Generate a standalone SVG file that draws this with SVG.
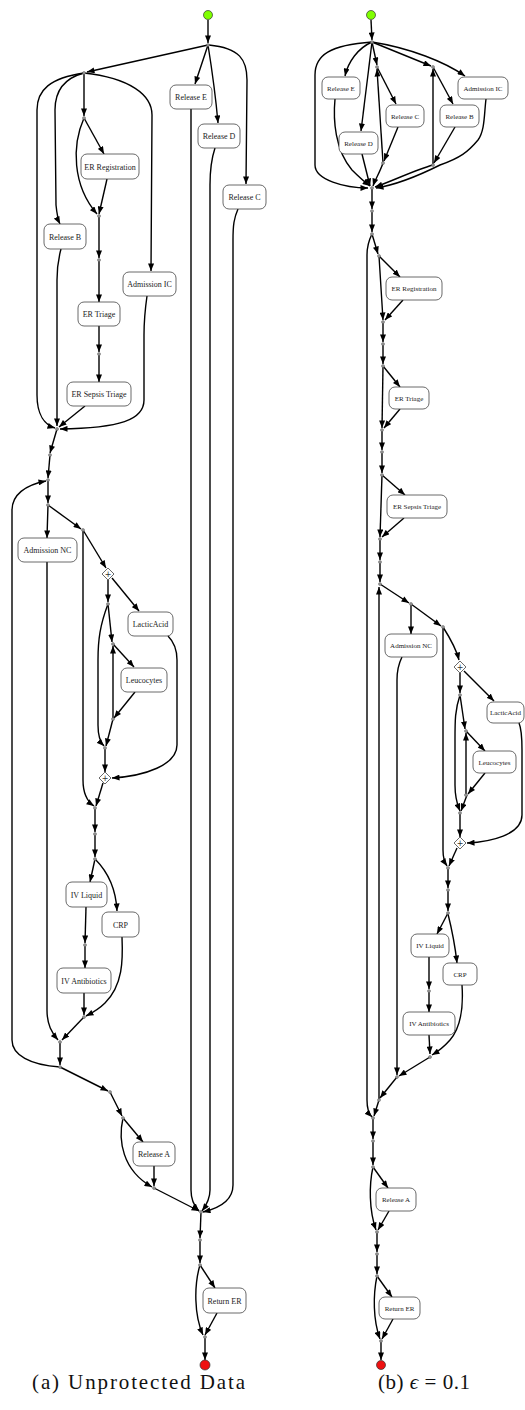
<svg xmlns="http://www.w3.org/2000/svg" width="525" height="1410" viewBox="0 0 525 1410">
<defs>
<marker id="ah" viewBox="0 0 10 8" refX="10" refY="4" markerWidth="8" markerHeight="6" markerUnits="userSpaceOnUse" orient="auto"><path d="M0,0 L10,4 L0,8 z" fill="#000"/></marker>
</defs>
<style>
.e{fill:none;stroke:#000;stroke-width:1.4;marker-end:url(#ah)}
.b rect{fill:#fff;stroke:#444;stroke-width:0.8}
.b text{font-family:"Liberation Serif","DejaVu Serif",serif;fill:#222;text-anchor:middle}
.a text{font-size:8px}
.bb text{font-size:7px}
.j{fill:#999;stroke:#555;stroke-width:0.5}
.g rect,.g path{fill:#fff;stroke:#444;stroke-width:0.8}
.g text{font-family:"DejaVu Sans",sans-serif;font-size:8px;text-anchor:middle;fill:#333}
.cap{font-family:"Liberation Serif","DejaVu Serif",serif;font-size:21px;fill:#111}
</style>
<rect width="525" height="1410" fill="#fff"/>

<g id="edges">
<!-- (a) -->
<path class="e" d="M208,20 L208,43"/>
<path class="e" d="M208,45 L87,72"/>
<path class="e" d="M208,45 L195,84"/>
<path class="e" d="M208,45 C212,70 216,100 218,123"/>
<path class="e" d="M209,45 C240,48 247,60 247,80 L246,184"/>
<path class="e" d="M84,73 C50,78 37,90 37,110 L37,395 C37,415 45,425 55,428"/>
<path class="e" d="M84,73 C65,78 55,90 55,110 L56,205 C57,215 58,220 60,224"/>
<path class="e" d="M84,73 L84,116"/>
<path class="e" d="M84,73 C130,78 152,95 152,115 L151,271"/>
<path class="e" d="M84,118 L104,154"/>
<path class="e" d="M84,118 C72,145 72,185 97,214"/>
<path class="e" d="M107,179 L99,214"/>
<path class="e" d="M99,216 L99,258"/>
<path class="e" d="M99,261 L99,302"/>
<path class="e" d="M99,326 L99,352"/>
<path class="e" d="M99,355 L99,382"/>
<path class="e" d="M85,406 L59,427"/>
<path class="e" d="M61,249 C58,260 57,270 57,280 L57,426"/>
<path class="e" d="M147,296 C145,310 144,320 144,335 L144,400 C144,420 120,428 60,429"/>
<path class="e" d="M57,429 L50,453"/>
<path class="e" d="M50,455 L48,478"/>
<path class="e" d="M48,480 L48,503"/>
<path class="e" d="M60,1067 C30,1065 12,1055 12,1040 L12,510 C12,495 25,485 46,481"/>
<path class="e" d="M48,505 L47,538"/>
<path class="e" d="M48,505 L81,529"/>
<path class="e" d="M83,530 L83,780 C83,795 88,802 94,806"/>
<path class="e" d="M83,530 L106,568"/>
<path class="e" d="M108,580 L108,602"/>
<path class="e" d="M112,578 L139,611"/>
<path class="e" d="M108,604 C100,625 98,640 98,660 L98,725 C98,735 100,742 104,746"/>
<path class="e" d="M108,604 L112,642"/>
<path class="e" d="M113,644 L134,667"/>
<path class="e" d="M135,692 L114,718"/>
<path class="e" d="M113,719 L113,646"/>
<path class="e" d="M113,719 L106,746"/>
<path class="e" d="M105,748 L105,772"/>
<path class="e" d="M168,636 C174,642 177,650 177,660 L177,745 C177,765 145,776 112,778"/>
<path class="e" d="M103,783 L96,806"/>
<path class="e" d="M95,808 L95,832"/>
<path class="e" d="M95,834 L95,857"/>
<path class="e" d="M95,859 L90,882"/>
<path class="e" d="M95,859 C108,872 116,890 117,911"/>
<path class="e" d="M86,907 L85,943"/>
<path class="e" d="M85,945 L85,968"/>
<path class="e" d="M84,993 L84,1015"/>
<path class="e" d="M122,937 C123,960 123,985 105,1003 C98,1010 92,1013 86,1016"/>
<path class="e" d="M84,1017 L62,1040"/>
<path class="e" d="M47,562 L47,1010 C47,1025 52,1033 58,1040"/>
<path class="e" d="M60,1042 L60,1065"/>
<path class="e" d="M60,1067 L108,1091"/>
<path class="e" d="M110,1092 L122,1116"/>
<path class="e" d="M123,1118 L143,1142"/>
<path class="e" d="M123,1118 C118,1140 122,1170 152,1187"/>
<path class="e" d="M154,1166 L154,1186"/>
<path class="e" d="M154,1188 L199,1211"/>
<path class="e" d="M191,109 L191,1190 C191,1200 195,1207 199,1211"/>
<path class="e" d="M215,148 C211,160 210,170 210,185 L210,1190 C210,1200 205,1207 202,1211"/>
<path class="e" d="M238,209 C234,218 233,225 233,240 L233,1185 C233,1200 220,1208 203,1212"/>
<path class="e" d="M201,1212 L200,1238"/>
<path class="e" d="M200,1240 L200,1263"/>
<path class="e" d="M200,1265 L215,1288"/>
<path class="e" d="M200,1265 C194,1285 194,1315 203,1335"/>
<path class="e" d="M217,1313 L205,1335"/>
<path class="e" d="M205,1337 L205,1360"/>

<!-- (b) -->
<path class="e" d="M371,20 L372,40"/>
<path class="e" d="M372,42 C330,45 315,55 315,75 L315,165 C315,180 345,188 368,188"/>
<path class="e" d="M372,42 C358,48 348,62 345,76"/>
<path class="e" d="M372,42 L361,131"/>
<path class="e" d="M372,42 L377,65"/>
<path class="e" d="M372,42 L431,66"/>
<path class="e" d="M372,42 C410,48 445,62 465,76"/>
<path class="e" d="M377,67 L396,104"/>
<path class="e" d="M398,127 L384,161"/>
<path class="e" d="M383,163 L377,69"/>
<path class="e" d="M383,163 C380,172 375,180 373,186"/>
<path class="e" d="M433,67 L453,104"/>
<path class="e" d="M455,127 L434,163"/>
<path class="e" d="M433,165 L433,69"/>
<path class="e" d="M433,165 C415,170 390,182 375,187"/>
<path class="e" d="M335,99 C333,120 335,150 352,170 C360,178 366,183 370,186"/>
<path class="e" d="M362,154 L370,186"/>
<path class="e" d="M486,99 C484,115 485,130 478,140 C468,152 460,158 440,165 C420,175 395,185 376,188"/>
<path class="e" d="M372,188 L372,209"/>
<path class="e" d="M372,211 L372,232"/>
<path class="e" d="M372,234 C369,240 367,245 367,255 L367,1100 C367,1110 369,1114 372,1117"/>
<path class="e" d="M372,234 L378,254"/>
<path class="e" d="M379,256 L400,277"/>
<path class="e" d="M379,256 L383,320"/>
<path class="e" d="M403,300 L385,320"/>
<path class="e" d="M383,322 L383,342"/>
<path class="e" d="M383,344 L383,364"/>
<path class="e" d="M383,366 L400,387"/>
<path class="e" d="M383,366 L382,428"/>
<path class="e" d="M400,409 L384,428"/>
<path class="e" d="M382,430 L382,450"/>
<path class="e" d="M382,452 L382,473"/>
<path class="e" d="M382,475 L405,495"/>
<path class="e" d="M382,475 L380,537"/>
<path class="e" d="M404,518 L382,537"/>
<path class="e" d="M380,539 L380,560"/>
<path class="e" d="M380,562 L380,582"/>
<path class="e" d="M379,1100 L379,587"/>
<path class="e" d="M380,584 L409,603"/>
<path class="e" d="M411,604 L411,634"/>
<path class="e" d="M411,604 L441,626"/>
<path class="e" d="M443,627 L443,850 C443,858 445,863 447,866"/>
<path class="e" d="M443,627 C450,638 456,648 459,660"/>
<path class="e" d="M464,671 L494,701"/>
<path class="e" d="M460,673 L460,693"/>
<path class="e" d="M460,695 C455,710 455,720 455,740 L455,785 C455,800 458,806 460,811"/>
<path class="e" d="M460,695 L465,729"/>
<path class="e" d="M466,731 L485,751"/>
<path class="e" d="M485,773 L468,794"/>
<path class="e" d="M466,795 L466,733"/>
<path class="e" d="M467,795 L461,811"/>
<path class="e" d="M460,813 L460,837"/>
<path class="e" d="M519,723 C522,730 522,740 522,750 L522,815 C522,835 490,842 467,843"/>
<path class="e" d="M457,848 L449,866"/>
<path class="e" d="M448,868 L448,888"/>
<path class="e" d="M448,890 L448,911"/>
<path class="e" d="M448,913 L437,934"/>
<path class="e" d="M448,914 C452,930 455,945 457,963"/>
<path class="e" d="M429,957 L429,989"/>
<path class="e" d="M429,991 L429,1012"/>
<path class="e" d="M429,1035 L430,1054"/>
<path class="e" d="M462,985 C463,1000 463,1025 450,1040 C443,1048 437,1052 432,1055"/>
<path class="e" d="M430,1057 L399,1076"/>
<path class="e" d="M402,657 C398,665 397,670 397,680 L397,1075"/>
<path class="e" d="M397,1077 L380,1098"/>
<path class="e" d="M379,1100 L374,1116"/>
<path class="e" d="M373,1118 L373,1139"/>
<path class="e" d="M373,1141 L373,1165"/>
<path class="e" d="M373,1167 L388,1188"/>
<path class="e" d="M373,1167 C369,1185 369,1210 376,1230"/>
<path class="e" d="M389,1211 L378,1230"/>
<path class="e" d="M377,1232 L377,1252"/>
<path class="e" d="M377,1254 L377,1274"/>
<path class="e" d="M377,1276 L392,1297"/>
<path class="e" d="M377,1276 C373,1295 373,1320 380,1339"/>
<path class="e" d="M393,1319 L382,1339"/>
<path class="e" d="M381,1341 L381,1360"/>
</g>

<g id="junctions">
<circle class="j" cx="208" cy="45" r="1.5"/>
<circle class="j" cx="84" cy="73" r="1.5"/>
<circle class="j" cx="84" cy="118" r="1.5"/>
<circle class="j" cx="99" cy="216" r="1.5"/>
<circle class="j" cx="99" cy="260" r="1.5"/>
<circle class="j" cx="99" cy="354" r="1.5"/>
<circle class="j" cx="57" cy="429" r="1.5"/>
<circle class="j" cx="50" cy="455" r="1.5"/>
<circle class="j" cx="48" cy="480" r="1.5"/>
<circle class="j" cx="48" cy="505" r="1.5"/>
<circle class="j" cx="83" cy="530" r="1.5"/>
<circle class="j" cx="108" cy="604" r="1.5"/>
<circle class="j" cx="113" cy="644" r="1.5"/>
<circle class="j" cx="113" cy="719" r="1.5"/>
<circle class="j" cx="105" cy="748" r="1.5"/>
<circle class="j" cx="95" cy="808" r="1.5"/>
<circle class="j" cx="95" cy="834" r="1.5"/>
<circle class="j" cx="95" cy="859" r="1.5"/>
<circle class="j" cx="85" cy="945" r="1.5"/>
<circle class="j" cx="84" cy="1017" r="1.5"/>
<circle class="j" cx="60" cy="1042" r="1.5"/>
<circle class="j" cx="60" cy="1067" r="1.5"/>
<circle class="j" cx="110" cy="1092" r="1.5"/>
<circle class="j" cx="123" cy="1118" r="1.5"/>
<circle class="j" cx="154" cy="1188" r="1.5"/>
<circle class="j" cx="201" cy="1212" r="1.5"/>
<circle class="j" cx="200" cy="1240" r="1.5"/>
<circle class="j" cx="200" cy="1265" r="1.5"/>
<circle class="j" cx="205" cy="1337" r="1.5"/>
<circle class="j" cx="372" cy="42" r="1.5"/>
<circle class="j" cx="377" cy="67" r="1.5"/>
<circle class="j" cx="383" cy="163" r="1.5"/>
<circle class="j" cx="433" cy="67" r="1.5"/>
<circle class="j" cx="433" cy="165" r="1.5"/>
<circle class="j" cx="372" cy="188" r="1.5"/>
<circle class="j" cx="372" cy="211" r="1.5"/>
<circle class="j" cx="372" cy="234" r="1.5"/>
<circle class="j" cx="379" cy="256" r="1.5"/>
<circle class="j" cx="383" cy="322" r="1.5"/>
<circle class="j" cx="383" cy="344" r="1.5"/>
<circle class="j" cx="383" cy="366" r="1.5"/>
<circle class="j" cx="382" cy="430" r="1.5"/>
<circle class="j" cx="382" cy="452" r="1.5"/>
<circle class="j" cx="382" cy="475" r="1.5"/>
<circle class="j" cx="380" cy="539" r="1.5"/>
<circle class="j" cx="380" cy="562" r="1.5"/>
<circle class="j" cx="380" cy="584" r="1.5"/>
<circle class="j" cx="411" cy="604" r="1.5"/>
<circle class="j" cx="443" cy="627" r="1.5"/>
<circle class="j" cx="460" cy="695" r="1.5"/>
<circle class="j" cx="466" cy="731" r="1.5"/>
<circle class="j" cx="466" cy="795" r="1.5"/>
<circle class="j" cx="460" cy="813" r="1.5"/>
<circle class="j" cx="448" cy="868" r="1.5"/>
<circle class="j" cx="448" cy="890" r="1.5"/>
<circle class="j" cx="448" cy="913" r="1.5"/>
<circle class="j" cx="429" cy="991" r="1.5"/>
<circle class="j" cx="430" cy="1057" r="1.5"/>
<circle class="j" cx="397" cy="1077" r="1.5"/>
<circle class="j" cx="379" cy="1100" r="1.5"/>
<circle class="j" cx="373" cy="1118" r="1.5"/>
<circle class="j" cx="373" cy="1141" r="1.5"/>
<circle class="j" cx="373" cy="1167" r="1.5"/>
<circle class="j" cx="377" cy="1232" r="1.5"/>
<circle class="j" cx="377" cy="1254" r="1.5"/>
<circle class="j" cx="377" cy="1276" r="1.5"/>
<circle class="j" cx="381" cy="1341" r="1.5"/>
</g>

<!-- (a) nodes -->
<g id="a-start"><circle cx="208" cy="15" r="4.5" fill="#7fff00" stroke="#333" stroke-width="0.7"/></g>
<g id="a-end"><circle cx="205" cy="1365" r="5" fill="#ee1111" stroke="#333" stroke-width="0.7"/></g>
<g id="a-release-e" class="b a"><rect x="170" y="85" width="42" height="24" rx="6"/><text x="191" y="100">Release E</text></g>
<g id="a-release-d" class="b a"><rect x="198" y="124" width="42" height="24" rx="6"/><text x="219" y="139">Release D</text></g>
<g id="a-release-c" class="b a"><rect x="223" y="185" width="43" height="24" rx="6"/><text x="244.5" y="200">Release C</text></g>
<g id="a-er-registration" class="b a"><rect x="81" y="154" width="58" height="25" rx="6"/><text x="110" y="169.5">ER Registration</text></g>
<g id="a-release-b" class="b a"><rect x="44" y="224" width="42" height="25" rx="6"/><text x="65" y="239.5">Release B</text></g>
<g id="a-admission-ic" class="b a"><rect x="123" y="272" width="53" height="24" rx="6"/><text x="149.5" y="287">Admission IC</text></g>
<g id="a-er-triage" class="b a"><rect x="78" y="302" width="42" height="24" rx="6"/><text x="99" y="317">ER Triage</text></g>
<g id="a-er-sepsis-triage" class="b a"><rect x="67" y="382" width="64" height="24" rx="6"/><text x="99" y="397">ER Sepsis Triage</text></g>
<g id="a-admission-nc" class="b a"><rect x="18" y="538" width="59" height="24" rx="6"/><text x="47.5" y="553">Admission NC</text></g>
<g id="a-xor1" class="g"><path d="M108,568 L114,574 L108,580 L102,574 Z"/><text x="108" y="577">+</text></g>
<g id="a-lacticacid" class="b a"><rect x="128" y="612" width="45" height="24" rx="6"/><text x="150.5" y="627">LacticAcid</text></g>
<g id="a-leucocytes" class="b a"><rect x="121" y="668" width="46" height="24" rx="6"/><text x="144" y="683">Leucocytes</text></g>
<g id="a-xor2" class="g"><path d="M105,772 L111,778 L105,784 L99,778 Z"/><text x="105" y="781">+</text></g>
<g id="a-iv-liquid" class="b a"><rect x="66" y="882" width="41" height="25" rx="6"/><text x="86.5" y="897.5">IV Liquid</text></g>
<g id="a-crp" class="b a"><rect x="102" y="912" width="37" height="25" rx="6"/><text x="120.5" y="927.5">CRP</text></g>
<g id="a-iv-antibiotics" class="b a"><rect x="57" y="968" width="54" height="25" rx="6"/><text x="84" y="983.5">IV Antibiotics</text></g>
<g id="a-release-a" class="b a"><rect x="133" y="1142" width="42" height="24" rx="6"/><text x="154" y="1157">Release A</text></g>
<g id="a-return-er" class="b a"><rect x="203" y="1288" width="43" height="25" rx="6"/><text x="224.5" y="1303.5">Return ER</text></g>

<!-- (b) nodes -->
<g id="b-start"><circle cx="371" cy="15" r="4.5" fill="#7fff00" stroke="#333" stroke-width="0.7"/></g>
<g id="b-end"><circle cx="381" cy="1365" r="4.5" fill="#ee1111" stroke="#333" stroke-width="0.7"/></g>
<g id="b-release-e" class="b bb"><rect x="322" y="77" width="38" height="22" rx="6"/><text x="341" y="90.5">Release E</text></g>
<g id="b-release-d" class="b bb"><rect x="339" y="132" width="39" height="22" rx="6"/><text x="358.5" y="145.5">Release D</text></g>
<g id="b-release-c" class="b bb"><rect x="386" y="105" width="38" height="22" rx="6"/><text x="405" y="118.5">Release C</text></g>
<g id="b-release-b" class="b bb"><rect x="440" y="105" width="39" height="22" rx="6"/><text x="459.5" y="118.5">Release B</text></g>
<g id="b-admission-ic" class="b bb"><rect x="458" y="77" width="50" height="22" rx="6"/><text x="483" y="90.5">Admission IC</text></g>
<g id="b-er-registration" class="b bb"><rect x="386" y="277" width="56" height="23" rx="6"/><text x="414" y="291">ER Registration</text></g>
<g id="b-er-triage" class="b bb"><rect x="389" y="387" width="40" height="22" rx="6"/><text x="409" y="400.5">ER Triage</text></g>
<g id="b-er-sepsis-triage" class="b bb"><rect x="387" y="495" width="60" height="23" rx="6"/><text x="417" y="509">ER Sepsis Triage</text></g>
<g id="b-admission-nc" class="b bb"><rect x="385" y="634" width="52" height="23" rx="6"/><text x="411" y="648">Admission NC</text></g>
<g id="b-xor1" class="g"><path d="M460,661 L466,667 L460,673 L454,667 Z"/><text x="460" y="670">+</text></g>
<g id="b-lacticacid" class="b bb"><rect x="487" y="702" width="37" height="21" rx="6"/><text x="505.5" y="715">LacticAcid</text></g>
<g id="b-leucocytes" class="b bb"><rect x="473" y="751" width="43" height="22" rx="6"/><text x="494.5" y="764.5">Leucocytes</text></g>
<g id="b-xor2" class="g"><path d="M460,837 L466,843 L460,849 L454,843 Z"/><text x="460" y="846">+</text></g>
<g id="b-iv-liquid" class="b bb"><rect x="411" y="934" width="38" height="23" rx="6"/><text x="430" y="948">IV Liquid</text></g>
<g id="b-crp" class="b bb"><rect x="443" y="963" width="34" height="22" rx="6"/><text x="460" y="976.5">CRP</text></g>
<g id="b-iv-antibiotics" class="b bb"><rect x="403" y="1012" width="52" height="23" rx="6"/><text x="429" y="1026">IV Antibiotics</text></g>
<g id="b-release-a" class="b bb"><rect x="376" y="1188" width="40" height="23" rx="6"/><text x="396" y="1202">Release A</text></g>
<g id="b-return-er" class="b bb"><rect x="379" y="1297" width="41" height="22" rx="6"/><text x="399.5" y="1310.5">Return ER</text></g>

<g id="captions">
<text class="cap" x="32" y="1389" textLength="213" lengthAdjust="spacing">(a) Unprotected Data</text>
<text class="cap" x="378" y="1389" textLength="92" lengthAdjust="spacing">(b) <tspan font-style="italic">ϵ</tspan> = 0.1</text>
</g>
</svg>
